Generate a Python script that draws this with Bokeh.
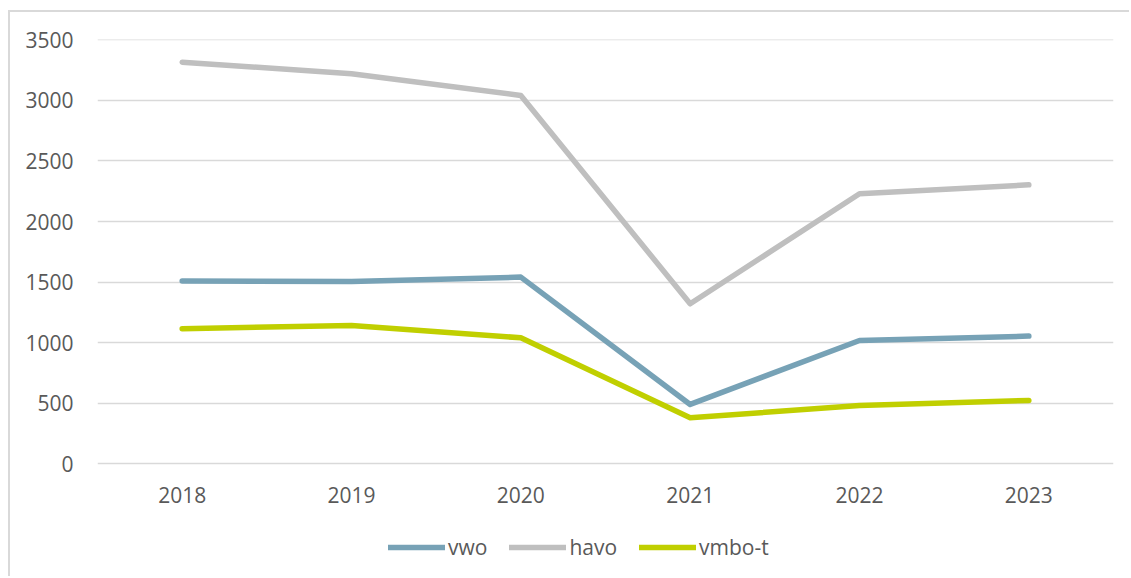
from bokeh.plotting import figure
from bokeh.models import FactorRange, Range1d, Legend, LegendItem, FixedTicker
from bokeh.embed import file_html
from bokeh.resources import INLINE

years = ["2018", "2019", "2020", "2021", "2022", "2023"]
vwo = [1508, 1505, 1541, 490, 1018, 1054]
havo = [3315, 3220, 3041, 1321, 2229, 2303]
vmbo_t = [1115, 1142, 1040, 380, 481, 523]
series_names = ["vwo", "havo", "vmbo-t"]
y_ticks = [0, 500, 1000, 1500, 2000, 2500, 3000, 3500]

colors = ["#77A2B6", "#BFBFBF", "#C0CF00"]
FONT = "Open Sans"
TXT = "#595959"

# frame extends below the value axis so the legend can sit inside it
p = figure(width=1121, height=566, x_range=FactorRange(*years), y_range=Range1d(-880.8, 3502.5),
           output_backend="svg", toolbar_location=None,
           min_border_left=87, min_border_right=18, min_border_top=27, min_border_bottom=8,
           styles={"border-left": "2px solid #D9D9D9", "border-top": "2px solid #D9D9D9",
                   "margin-left": "8px", "margin-top": "10px"})
p.outline_line_color = None
p.background_fill_color = "white"
p.border_fill_color = "white"

p.xgrid.grid_line_color = None
p.ygrid.grid_line_color = "#D9D9D9"
p.ygrid.grid_line_width = 1.4
p.yaxis.ticker = FixedTicker(ticks=y_ticks)

for ax in (p.xaxis[0], p.yaxis[0]):
    ax.axis_line_color = None
    ax.major_tick_line_color = None
    ax.minor_tick_line_color = None
    ax.major_tick_out = 0
    ax.major_tick_in = 0
    ax.minor_tick_out = 0
    ax.minor_tick_in = 0
    ax.major_label_text_font = FONT
    ax.major_label_text_font_size = "21px"
    ax.major_label_text_color = TXT
p.yaxis.major_label_standoff = 24
p.xaxis.fixed_location = -473.8
p.xaxis.major_label_standoff = -34

renderers = []
for name, vals, c in zip(series_names, [vwo, havo, vmbo_t], colors):
    r = p.line(years, vals, line_color=c, line_width=5.5, line_cap="round", line_join="round")
    renderers.append(r)

legend = Legend(items=[LegendItem(label=n, renderers=[r]) for n, r in zip(series_names, renderers)],
                orientation="horizontal", location=(291, 9))
legend.glyph_width = 57
legend.glyph_height = 20
legend.label_standoff = 3
legend.spacing = 22
legend.padding = 0
legend.margin = 0
legend.border_line_color = None
legend.background_fill_alpha = 0
legend.label_text_font = FONT
legend.label_text_font_size = "21px"
legend.label_text_color = TXT
p.add_layout(legend, "center")

open("out.html", "w").write(file_html(p, INLINE))
